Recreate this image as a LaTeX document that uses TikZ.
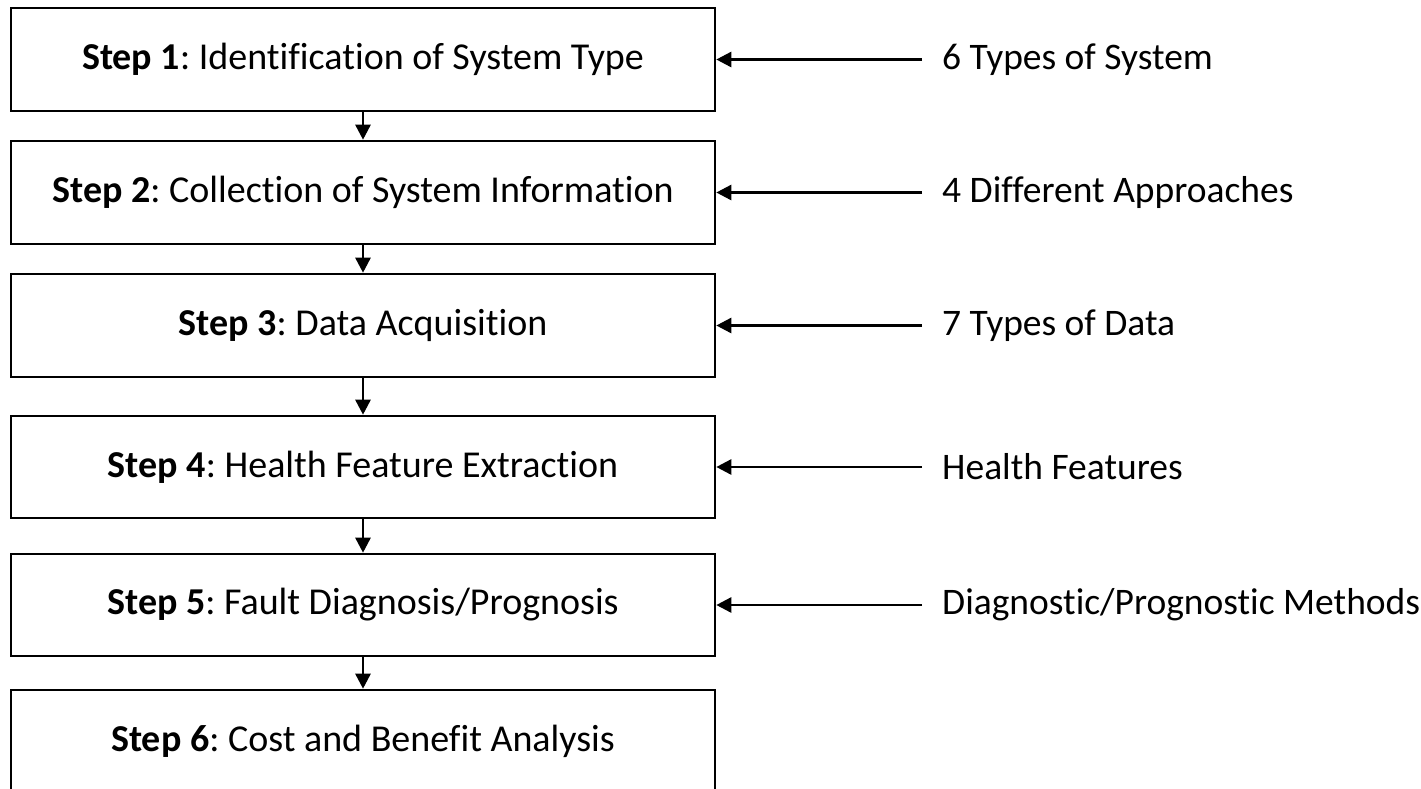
\documentclass[tikz,border=0pt]{standalone}
\usepackage{fontspec}
\setmainfont[Ligatures=NoCommon]{Carlito}
\usetikzlibrary{arrows.meta}
\begin{document}
\frenchspacing
\begin{tikzpicture}[x=1pt,y=-1pt,
  stepbox/.style={draw=black, line width=2.6pt, minimum width=704pt, inner sep=0pt,
    font=\fontsize{38}{44}\selectfont},
  note/.style={anchor=west, inner sep=0pt, font=\fontsize{37.5}{44}\selectfont},
  flow/.style={line width=2.6pt, -{Triangle[length=15pt,width=15pt]}}]
  \clip (0,0) rectangle (1421,788);
  \fill[white] (0,0) rectangle (1421,788);
  % process steps (top, bottom)
  \node[stepbox, minimum height=103pt] (s1) at (363,59.5) {\textbf{Step 1}: Identification of System Type};
  \node[stepbox, minimum height=103pt] (s2) at (363,192.5) {\textbf{Step 2}: Collection of System Information};
  \node[stepbox, minimum height=103pt] (s3) at (363,325.5) {\textbf{Step 3}: Data Acquisition};
  \node[stepbox, minimum height=102pt] (s4) at (363,467) {\textbf{Step 4}: Health Feature Extraction};
  \node[stepbox, minimum height=102pt] (s5) at (363,605) {\textbf{Step 5}: Fault Diagnosis/Prognosis};
  \node[stepbox, minimum height=103pt] (s6) at (363,741.5) {\textbf{Step 6}: Cost and Benefit Analysis};
  % inputs on the right
  \node[note] (n1) at (942,59.5) {6 Types of System};
  \node[note] (n2) at (942,192.5) {4 Different Approaches};
  \node[note] (n3) at (942,325.5) {7 Types of Data};
  \node[note] (n4) at (942,467) {Health Features};
  \node[note] (n5) at (942,605) {Diagnostic/Prognostic Methods};
  % flow between steps
  \foreach \a/\b in {s1/s2,s2/s3,s3/s4,s4/s5,s5/s6}
    \draw[flow] (\a.south) -- (\b.north);
  % inputs feeding each step
  \foreach \i in {1,...,5}
    \draw[flow] ([xshift=-20pt]n\i.west) -- (s\i.east);
\end{tikzpicture}
\end{document}
